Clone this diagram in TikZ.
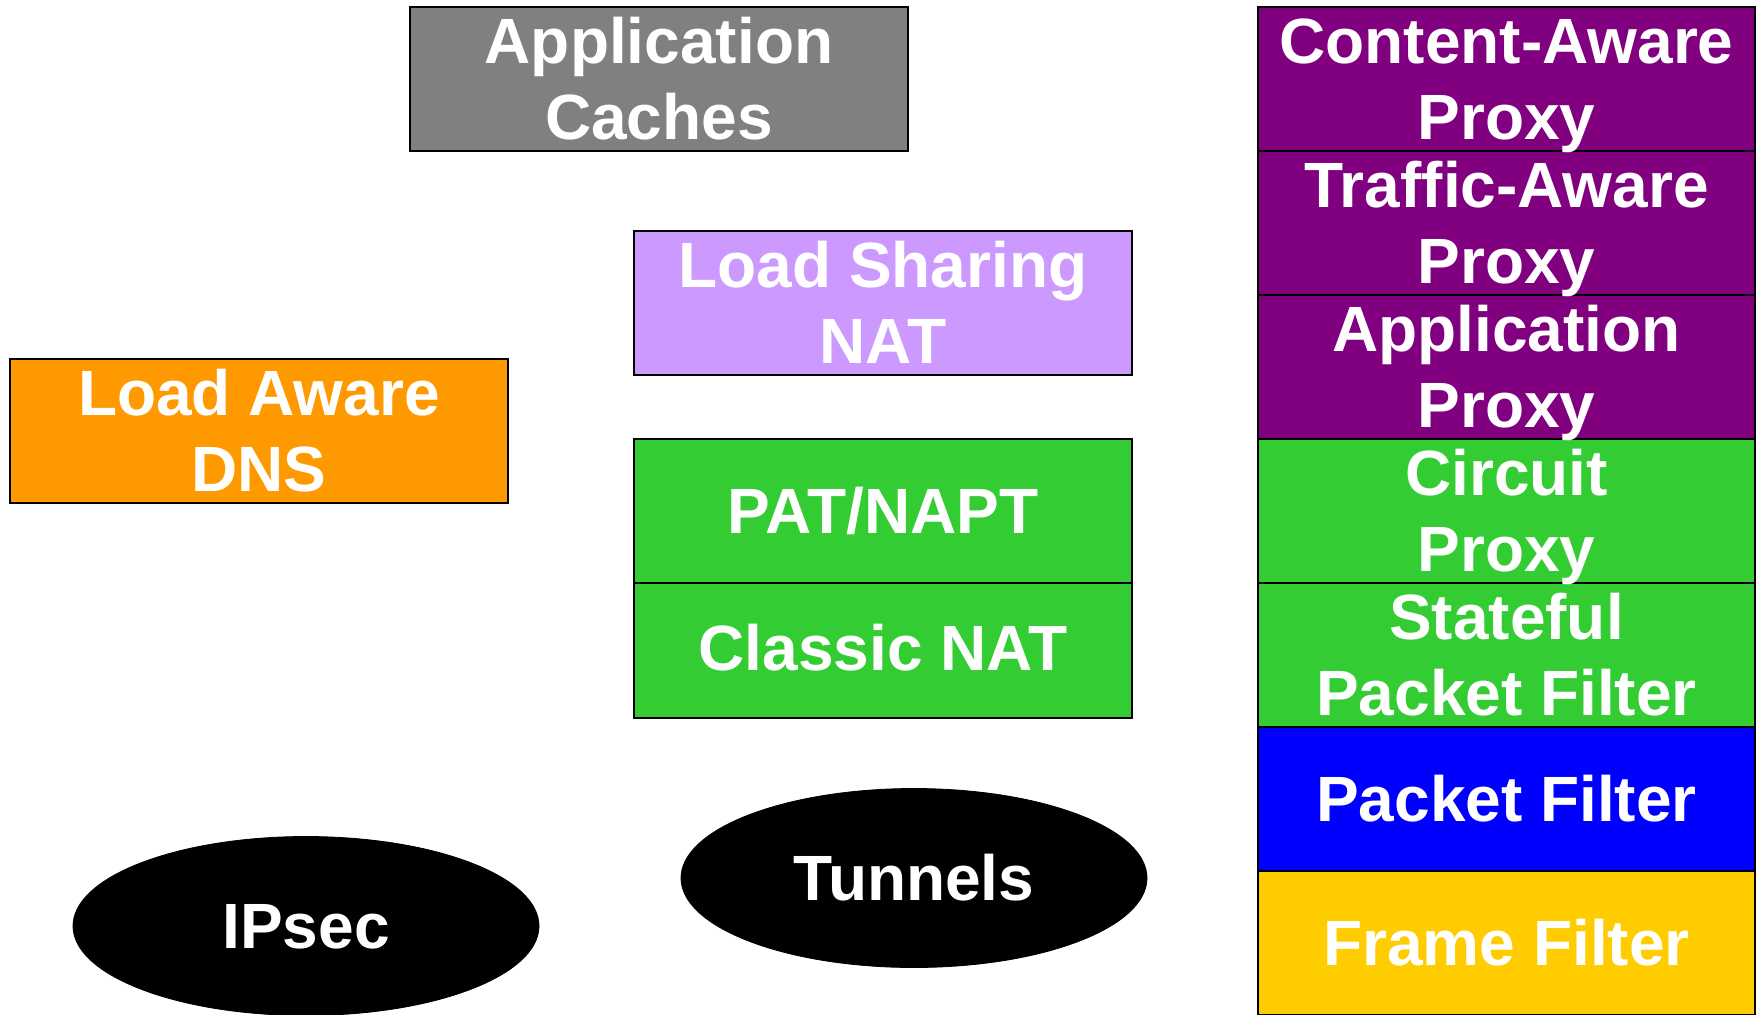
\documentclass[tikz,border=0pt]{standalone}
\usepackage{fontspec}
\setmainfont{Liberation Sans}
\usetikzlibrary{shapes.geometric}

\definecolor{cachegray}{HTML}{808080}
\definecolor{dnsorange}{HTML}{FF9900}
\definecolor{lavender}{HTML}{CC99FF}
\definecolor{natgreen}{HTML}{33CC33}
\definecolor{proxypurple}{HTML}{800080}
\definecolor{filterblue}{HTML}{0000FF}
\definecolor{frameyellow}{HTML}{FFCC00}

% two centred lines whose baseline is the last line
\newcommand\twoline[2]{\begin{tabular}[b]{@{}c@{}}#1\\#2\end{tabular}}

\tikzset{
  layerbox/.style={rectangle, draw=black, line width=1bp, inner sep=0pt,
                   minimum width=249bp, minimum height=72bp},
  onelabel/.style={text=white, font=\bfseries\fontsize{32bp}{38bp}\selectfont,
                   inner sep=0pt, text height=22.7bp, text depth=0pt},
  twolabel/.style={onelabel, text height=60.7bp},
  blob/.style={ellipse, fill=black, draw=black, inner sep=0pt,
               minimum width=233bp, minimum height=89.5bp}
}

\begin{document}
\begin{tikzpicture}[x=0.5bp, y=-0.5bp]
  \useasboundingbox (0,0) rectangle (1760,1014);

  % free-standing boxes
  \node[layerbox, fill=cachegray]  (cache)   at (659,79)    {};
  \node[layerbox, fill=dnsorange]  (dns)     at (259,431)   {};
  \node[layerbox, fill=lavender]   (lsnat)   at (883,303)   {};
  \node[layerbox, fill=natgreen]   (pat)     at (883,511)   {};
  \node[layerbox, fill=natgreen, minimum height=67.5bp] (classic) at (883,650.5) {};

  % stacked column on the right
  \node[layerbox, fill=proxypurple, minimum width=248.5bp] (cap)   at (1506.5,79)  {};
  \node[layerbox, fill=proxypurple, minimum width=248.5bp] (tap)   at (1506.5,223) {};
  \node[layerbox, fill=proxypurple, minimum width=248.5bp] (app)   at (1506.5,367) {};
  \node[layerbox, fill=natgreen,    minimum width=248.5bp] (circ)  at (1506.5,511) {};
  \node[layerbox, fill=natgreen,    minimum width=248.5bp] (spf)   at (1506.5,655) {};
  \node[layerbox, fill=filterblue,  minimum width=248.5bp] (pf)    at (1506.5,799) {};
  \node[layerbox, fill=frameyellow, minimum width=248.5bp] (ff)    at (1506.5,943) {};

  % ellipses
  \node[blob, onelabel] (tunnels) at (914,878) {Tunnels};
  \node[blob, onelabel] (ipsec)   at (306,926) {IPsec};

  % labels drawn over all the boxes
  \node[twolabel] (cacheT) at (cache.center) {\twoline{Application}{Caches}};
  \node[twolabel] (dnsT)   at (dns.center)   {\twoline{Load Aware}{DNS}};
  \node[twolabel] (lsnatT) at (lsnat.center) {\twoline{Load Sharing}{NAT}};
  \node[onelabel] (patT)   at (pat.center)   {PAT/NAPT};
  \node[onelabel] (clasT)  at ([yshift=1.5bp]classic.center) {Classic NAT};

  \node[twolabel] (capT)   at (cap.center)   {\twoline{Content-Aware}{Proxy}};
  \node[twolabel] (tapT)   at (tap.center)   {\twoline{Traffic-Aware}{Proxy}};
  \node[twolabel] (appT)   at (app.center)   {\twoline{Application}{Proxy}};
  \node[twolabel] (circT)  at (circ.center)  {\twoline{Circuit}{Proxy}};
  \node[twolabel] (spfT)   at (spf.center)   {\twoline{Stateful}{Packet Filter}};
  \node[onelabel] (pfT)    at (pf.center)    {Packet Filter};
  \node[onelabel] (ffT)    at (ff.center)    {Frame Filter};
\end{tikzpicture}
\end{document}
